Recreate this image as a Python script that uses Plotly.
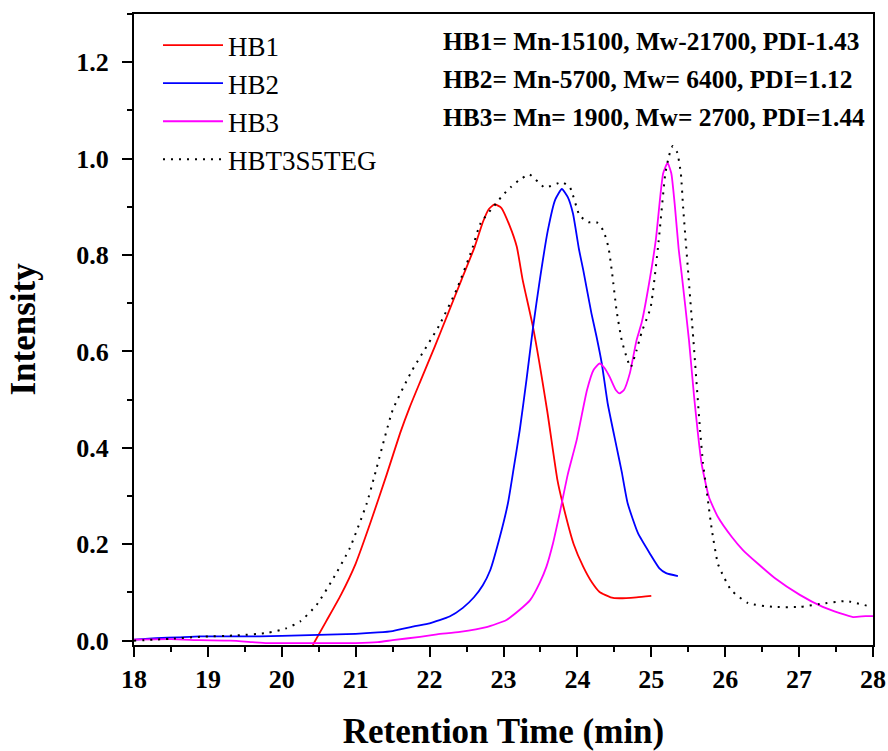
import plotly.graph_objects as go

# Retention time (min) and normalised intensity for each GPC trace
hb1_time = [20.42, 20.6, 20.8, 21.0, 21.2, 21.42, 21.6, 21.73, 21.88, 22.07, 22.25, 22.43,
            22.61, 22.72, 22.8, 22.88, 22.97, 23.08, 23.18, 23.26, 23.40, 23.59, 23.73,
            23.80, 23.95, 24.08, 24.2, 24.30, 24.45, 24.57, 24.8, 25.0]
hb1_int = [-0.009, 0.04, 0.095, 0.16, 0.245, 0.345, 0.43, 0.484, 0.54, 0.61, 0.679, 0.748,
           0.817, 0.868, 0.895, 0.905, 0.898, 0.862, 0.817, 0.748, 0.65, 0.478, 0.333,
           0.285, 0.2, 0.153, 0.12, 0.101, 0.09, 0.088, 0.09, 0.093]

hb2_time = [18.0, 18.3, 18.6, 18.9, 19.3, 19.7, 20.0, 20.5, 21.0, 21.3, 21.5, 21.8,
            22.0, 22.27, 22.45, 22.6, 22.72, 22.82, 22.95, 23.06, 23.13, 23.22, 23.31,
            23.40, 23.49, 23.60, 23.70, 23.79, 23.87, 23.94, 24.02, 24.08, 24.19, 24.26,
            24.33, 24.41, 24.53, 24.60, 24.68, 24.82, 24.98, 25.11, 25.2, 25.36]
hb2_int = [0.002, 0.005, 0.007, 0.009, 0.009, 0.009, 0.01, 0.012, 0.014, 0.017, 0.02,
           0.03, 0.036, 0.05, 0.068, 0.09, 0.115, 0.146, 0.215, 0.285, 0.35, 0.437,
           0.54, 0.65, 0.747, 0.851, 0.915, 0.937, 0.92, 0.886, 0.813, 0.768, 0.679,
           0.63, 0.575, 0.492, 0.402, 0.35, 0.285, 0.223, 0.181, 0.15, 0.14, 0.134]

hb3_time = [18.0, 18.5, 18.9, 19.3, 19.6, 19.8, 20.2, 20.6, 21.0, 21.3, 21.5, 21.87,
            22.1, 22.41, 22.77, 23.04, 23.22, 23.36, 23.49, 23.58, 23.67, 23.76, 23.87,
            23.99, 24.13, 24.22, 24.30, 24.37, 24.44, 24.52, 24.57, 24.63, 24.71, 24.80,
            24.87, 24.94, 25.06, 25.16, 25.22, 25.27, 25.32, 25.37, 25.41, 25.51, 25.58,
            25.68, 25.78, 25.9, 26.09, 26.24, 26.44, 26.67, 27.01, 27.32, 27.55, 27.73,
            27.9, 28.0]
hb3_int = [0.002, 0.003, 0.001, 0.0, -0.003, -0.005, -0.005, -0.005, -0.005, -0.003,
           0.001, 0.008, 0.013, 0.018, 0.028, 0.043, 0.064, 0.084, 0.12, 0.153, 0.202,
           0.264, 0.345, 0.416, 0.52, 0.562, 0.575, 0.565, 0.546, 0.52, 0.513, 0.52,
           0.555, 0.623, 0.66, 0.715, 0.83, 0.969, 0.991, 0.97, 0.9, 0.813, 0.762, 0.623,
           0.505, 0.368, 0.298, 0.257, 0.215, 0.188, 0.16, 0.13, 0.095, 0.07,
           0.057, 0.049, 0.051, 0.051]

teg_time = [18.0, 18.5, 18.9, 19.4, 19.8, 20.05, 20.25, 20.47, 20.7, 20.92, 21.15,
            21.26, 21.5, 21.75, 22.13, 22.37, 22.57, 22.69, 22.9, 22.99, 23.1, 23.21,
            23.35, 23.56, 23.79, 23.9, 24.03, 24.15, 24.26, 24.35, 24.42, 24.47, 24.53,
            24.6, 24.67, 24.72, 24.8, 24.87, 24.99, 25.1, 25.19, 25.24, 25.29, 25.35,
            25.40, 25.43, 25.5, 25.57, 25.66, 25.70, 25.76, 25.82, 25.9, 25.95, 26.08,
            26.31, 26.65, 27.01, 27.28, 27.64, 27.98]
teg_int = [0.0, 0.004, 0.008, 0.011, 0.016, 0.025, 0.04, 0.074, 0.13, 0.192, 0.285,
           0.345, 0.478, 0.557, 0.654, 0.73, 0.81, 0.866, 0.907, 0.924, 0.941, 0.955,
           0.967, 0.94, 0.951, 0.94, 0.882, 0.868, 0.868, 0.851, 0.816, 0.762, 0.685,
           0.623, 0.586, 0.567, 0.602, 0.64, 0.691, 0.83, 0.969, 1.006, 1.026, 1.013,
           0.969, 0.9, 0.762, 0.623, 0.437, 0.368, 0.298, 0.229, 0.16, 0.142, 0.105,
           0.078, 0.07, 0.07, 0.076, 0.082, 0.07]

summary_lines = [
    "HB1= Mn-15100, Mw-21700, PDI-1.43",
    "HB2= Mn-5700, Mw= 6400, PDI=1.12",
    "HB3= Mn= 1900, Mw= 2700, PDI=1.44",
]

SERIF = "Liberation Serif, Times New Roman, serif"

fig = go.Figure()
fig.add_trace(go.Scatter(x=hb1_time, y=hb1_int, name="HB1", mode="lines",
                         line=dict(color="#FF0000", width=1.8, shape="spline", smoothing=0.5)))
fig.add_trace(go.Scatter(x=hb2_time, y=hb2_int, name="HB2", mode="lines",
                         line=dict(color="#0000FF", width=1.8, shape="spline", smoothing=0.5)))
fig.add_trace(go.Scatter(x=hb3_time, y=hb3_int, name="HB3", mode="lines",
                         line=dict(color="#FF00FF", width=1.8, shape="spline", smoothing=0.5)))
fig.add_trace(go.Scatter(x=teg_time, y=teg_int, name="HBT3S5TEG", mode="lines",
                         line=dict(color="black", width=2, dash="2px,6px",
                                   shape="spline", smoothing=0.5)))

for i, txt in enumerate(summary_lines):
    fig.add_annotation(text=f"<b>{txt}</b>", xref="paper", yref="paper",
                       x=(441 - 134) / 739, y=1 - (41 + 38 * i - 14) / 631,
                       xanchor="left", yanchor="middle", showarrow=False,
                       font=dict(family=SERIF, size=25.4, color="black"))

axis_common = dict(
    showline=True, linecolor="black", linewidth=2, mirror=True,
    ticks="outside", ticklen=10, tickwidth=2, tickcolor="black",
    showgrid=False, zeroline=False,
    tickfont=dict(family=SERIF, size=26, color="black", weight="bold"),
)

fig.update_xaxes(
    range=[18, 28], dtick=1, tick0=18,
    minor=dict(dtick=0.5, ticks="outside", ticklen=5, tickwidth=2, tickcolor="black"),
    title=dict(text="<b>Retention Time (min)</b>",
               font=dict(family=SERIF, size=35, color="black"), standoff=30),
    ticklabelstandoff=0,
    **axis_common,
)
fig.update_yaxes(
    range=[-0.009, 1.3], dtick=0.2, tick0=0, tickformat=".1f",
    minor=dict(dtick=0.1, ticks="outside", ticklen=5, tickwidth=2, tickcolor="black"),
    title=dict(text="<b>Intensity</b>",
               font=dict(family=SERIF, size=35, color="black"), standoff=30),
    ticklabelstandoff=8,
    **axis_common,
)

fig.update_layout(
    width=888, height=751,
    margin=dict(l=134, r=15, t=14, b=106, autoexpand=False),
    paper_bgcolor="white", plot_bgcolor="white",
    showlegend=True,
    legend=dict(x=(158 - 134) / 739, y=1 - (21 - 14) / 631, xanchor="left", yanchor="top",
                bgcolor="rgba(0,0,0,0)", borderwidth=0,
                font=dict(family=SERIF, size=27, color="black"),
                tracegroupgap=0, itemwidth=60),
)

fig.write_html("out.html")
